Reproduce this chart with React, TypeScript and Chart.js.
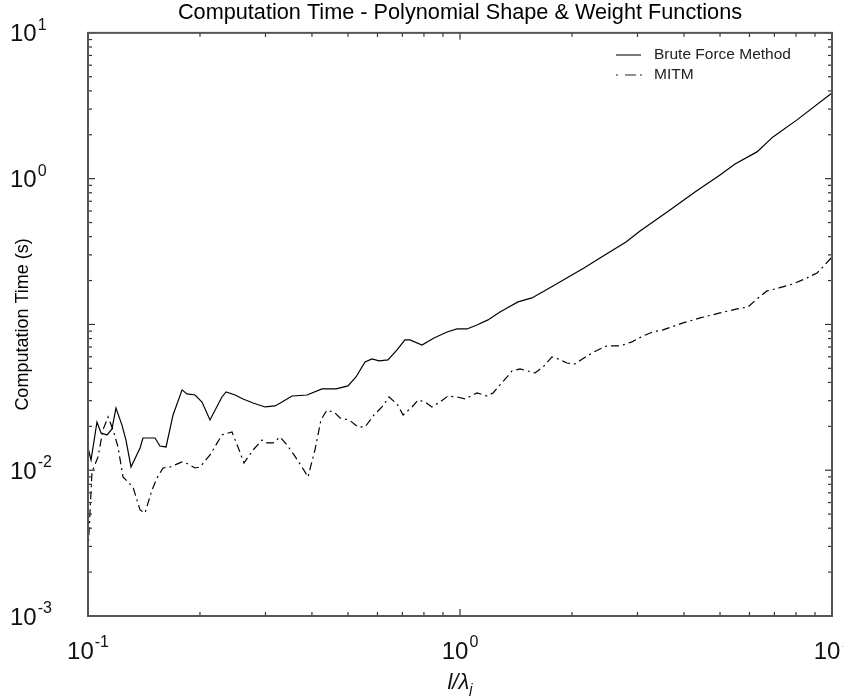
import React, { useEffect, useRef } from 'react';
import { Chart, registerables } from 'chart.js';

Chart.register(...registerables);

const titleText = 'Computation Time - Polynomial Shape & Weight Functions';
const yTitle = 'Computation Time (s)';
const seriesNames = ['Brute Force Method', 'MITM'];

const bruteX = [
  0.1, 0.1019, 0.1057, 0.1084, 0.1125, 0.116, 0.1189, 0.1234, 0.1265, 0.1305,
  0.138, 0.1405, 0.1514, 0.1561, 0.1621, 0.1693, 0.179, 0.1845, 0.194, 0.2025,
  0.2128, 0.2291, 0.235, 0.2485, 0.2611, 0.2778, 0.2991, 0.3183, 0.3323, 0.3534,
  0.388, 0.4256, 0.4642, 0.4999, 0.5253, 0.5555, 0.5799, 0.6058, 0.6404, 0.6771,
  0.7113, 0.7336, 0.7904, 0.8513, 0.9228, 0.9815, 1.044, 1.111, 1.189, 1.281,
  1.338, 1.432, 1.561, 1.778, 2.154, 2.378, 2.794, 3.048, 3.668, 4.282,
  5.0, 5.486, 6.286, 6.94, 8.052, 10.0,
];
const bruteY = [
  0.0142, 0.01175, 0.0214, 0.018, 0.01746, 0.0192, 0.0267, 0.0204, 0.0161, 0.01052,
  0.0142, 0.01664, 0.01664, 0.01466, 0.01444, 0.02393, 0.03556, 0.03336, 0.0328, 0.02938,
  0.02213, 0.0318, 0.03444, 0.0328, 0.03083, 0.02893, 0.02716, 0.0276, 0.02938, 0.0323,
  0.0328, 0.0361, 0.0361, 0.03786, 0.04363, 0.0553, 0.05799, 0.05618, 0.05706, 0.06683,
  0.0783, 0.0783, 0.0723, 0.0808, 0.0888, 0.0931, 0.0931, 0.0992, 0.1074, 0.1219,
  0.1298, 0.1427, 0.152, 0.1837, 0.2442, 0.286, 0.3681, 0.438, 0.6105, 0.8111,
  1.061, 1.262, 1.526, 1.934, 2.53, 3.876,
];

const mitmX = [
  0.1, 0.1025, 0.1064, 0.1097, 0.1132, 0.1168, 0.1204, 0.1242, 0.1321, 0.138,
  0.1423, 0.1486, 0.1533, 0.1591, 0.1662, 0.179, 0.1845, 0.194, 0.2, 0.2128,
  0.2291, 0.2438, 0.253, 0.2626, 0.2778, 0.2936, 0.3029, 0.3143, 0.3282, 0.3427,
  0.358, 0.376, 0.3902, 0.4075, 0.4229, 0.4389, 0.4614, 0.4758, 0.5031, 0.5319,
  0.5555, 0.5872, 0.617, 0.6444, 0.6771, 0.703, 0.7431, 0.7713, 0.8052, 0.8407,
  0.8835, 0.9284, 0.9815, 1.031, 1.111, 1.182, 1.227, 1.281, 1.338, 1.38,
  1.45, 1.591, 1.672, 1.767, 1.834, 1.939, 2.038, 2.154, 2.263, 2.378,
  2.484, 2.692, 2.9, 3.104, 3.302, 3.513, 3.978, 4.418, 5.0, 5.553,
  5.945, 6.286, 6.688, 7.203, 7.856, 8.567, 9.114, 9.517, 10.0,
];
const mitmY = [
  0.0027, 0.00973, 0.01233, 0.01889, 0.02319, 0.01889, 0.01444, 0.00899, 0.00767, 0.00534,
  0.00509, 0.00732, 0.00885, 0.01036, 0.01052, 0.0114, 0.01113, 0.01036, 0.01052, 0.01273,
  0.01746, 0.0183, 0.01444, 0.01121, 0.01377, 0.01612, 0.01538, 0.01538, 0.0169, 0.0149,
  0.01273, 0.01052, 0.00899, 0.01377, 0.02213, 0.0259, 0.0247, 0.02283, 0.02213, 0.0198,
  0.0198, 0.02393, 0.02716, 0.0318, 0.02848, 0.02393, 0.02716, 0.03034, 0.0294, 0.02716,
  0.0294, 0.0323, 0.0318, 0.03083, 0.0339, 0.0323, 0.0339, 0.03846, 0.04363, 0.04799,
  0.04952, 0.04647, 0.05109, 0.05984, 0.058, 0.0544, 0.0536, 0.0589, 0.0637, 0.0679,
  0.0712, 0.0712, 0.0759, 0.0834, 0.0888, 0.0917, 0.1024, 0.1108, 0.1199, 0.1278,
  0.1318, 0.1496, 0.1698, 0.178, 0.1896, 0.2085, 0.2256, 0.252, 0.2905,
];

const xMajor = [0.1, 1, 10];
const xMajorExp = ['-1', '0', '1'];
const yMajor = [0.001, 0.01, 0.1, 1, 10];
// labels shown on the y axis (10^-1 is hidden behind the axis title in the reference)
const yLabelValues = [0.001, 0.01, 1, 10];
const yLabelExp = ['-3', '-2', '0', '1'];
const minorMult = [2, 3, 4, 5, 6, 7, 8, 9];

const FONT = '"Liberation Sans", Arial, Helvetica, sans-serif';

const decorPlugin = {
  id: 'decor',
  afterDraw(chart: any) {
    const { ctx, chartArea: a, scales } = chart;
    const xs = scales.x;
    const ys = scales.y;
    ctx.save();

    const seg = (x1: number, y1: number, x2: number, y2: number) => {
      ctx.beginPath();
      ctx.moveTo(x1, y1);
      ctx.lineTo(x2, y2);
      ctx.stroke();
    };

    // tick marks (inside, all four sides)
    ctx.strokeStyle = '#333';
    ctx.lineWidth = 1.2;
    xMajor.forEach((v, i) => {
      const p = xs.getPixelForValue(v);
      seg(p, a.bottom, p, a.bottom - 7);
      seg(p, a.top, p, a.top + 7);
      if (i < xMajor.length - 1) {
        minorMult.forEach((m) => {
          const q = xs.getPixelForValue(v * m);
          seg(q, a.bottom, q, a.bottom - 4);
          seg(q, a.top, q, a.top + 4);
        });
      }
    });
    yMajor.forEach((v, i) => {
      const p = ys.getPixelForValue(v);
      seg(a.left, p, a.left + 7, p);
      seg(a.right, p, a.right - 7, p);
      if (i < yMajor.length - 1) {
        minorMult.forEach((m) => {
          const q = ys.getPixelForValue(v * m);
          seg(a.left, q, a.left + 4, q);
          seg(a.right, q, a.right - 4, q);
        });
      }
    });

    // frame
    ctx.strokeStyle = '#555';
    ctx.lineWidth = 2;
    ctx.strokeRect(a.left, a.top, a.right - a.left, a.bottom - a.top);

    // tick labels
    ctx.fillStyle = '#111';
    ctx.textAlign = 'left';
    ctx.textBaseline = 'alphabetic';
    const big = `24px ${FONT}`;
    const small = `16px ${FONT}`;
    xMajor.forEach((v, i) => {
      const p = xs.getPixelForValue(v);
      ctx.font = big;
      const w1 = ctx.measureText('10').width;
      ctx.font = small;
      const w2 = ctx.measureText(xMajorExp[i]).width;
      const left = p - (w1 + 1 + w2) / 2;
      ctx.font = big;
      ctx.fillText('10', left, 659);
      ctx.font = small;
      ctx.fillText(xMajorExp[i], left + w1 + 1, 647);
    });
    yLabelValues.forEach((v, i) => {
      const p = ys.getPixelForValue(v);
      ctx.font = big;
      const w1 = ctx.measureText('10').width;
      ctx.fillText('10', 10, p + 8.5);
      ctx.font = small;
      ctx.fillText(yLabelExp[i], 10 + w1 + 1, p - 3);
    });

    // x axis title: l/λ with subscript j
    const xt1 = 'l/λ';
    const xt2 = 'j';
    ctx.font = `italic 22px ${FONT}`;
    const tw1 = ctx.measureText(xt1).width;
    ctx.font = `italic 15px ${FONT}`;
    const tw2 = ctx.measureText(xt2).width;
    const cx = (a.left + a.right) / 2;
    const tl = cx - (tw1 + tw2) / 2;
    ctx.font = `italic 22px ${FONT}`;
    ctx.fillText(xt1, tl, 689);
    ctx.font = `italic 15px ${FONT}`;
    ctx.fillText(xt2, tl + tw1, 694);

    // legend
    ctx.font = `15.5px ${FONT}`;
    ctx.textBaseline = 'middle';
    ctx.fillStyle = '#222';
    ctx.fillText(seriesNames[0], 654, 55);
    ctx.fillText(seriesNames[1], 654, 75);
    ctx.strokeStyle = '#222';
    ctx.lineWidth = 1.2;
    seg(616, 55, 641, 55);
    ctx.setLineDash([2, 7, 11, 4, 2, 40]);
    seg(616, 75, 642, 75);
    ctx.setLineDash([]);

    ctx.restore();
  },
};

export default function App() {
  const ref = useRef<HTMLCanvasElement>(null);

  useEffect(() => {
    if (!ref.current) return;
    const chart = new Chart(ref.current, {
      type: 'line',
      data: {
        datasets: [
          {
            label: seriesNames[0],
            data: bruteX.map((x, i) => ({ x, y: bruteY[i] })),
            borderColor: '#000',
            borderWidth: 1.2,
            pointRadius: 0,
            fill: false,
            tension: 0,
          },
          {
            label: seriesNames[1],
            data: mitmX.map((x, i) => ({ x, y: mitmY[i] })),
            borderColor: '#000',
            borderWidth: 1.2,
            borderDash: [8, 4, 2, 4],
            pointRadius: 0,
            fill: false,
            tension: 0,
          },
        ],
      },
      options: {
        responsive: false,
        animation: false,
        layout: { padding: { left: 0, right: 11, top: 0, bottom: 0 } },
        plugins: {
          legend: { display: false },
          tooltip: { enabled: false },
          title: {
            display: true,
            text: titleText,
            fullSize: false,
            color: '#000',
            font: { family: FONT, size: 21.7, weight: 'normal', lineHeight: 1.1 },
            padding: { top: 1, bottom: 8 },
          },
        },
        scales: {
          x: {
            type: 'logarithmic',
            min: 0.1,
            max: 10,
            grid: { display: false },
            border: { display: false },
            ticks: { display: false },
            afterFit: (s: any) => {
              s.height = 80;
              s.paddingLeft = 0;
              s.paddingRight = 0;
            },
          },
          y: {
            type: 'logarithmic',
            min: 0.001,
            max: 10,
            grid: { display: false },
            border: { display: false },
            ticks: { display: false },
            title: {
              display: true,
              text: yTitle,
              color: '#000',
              font: { family: FONT, size: 18, lineHeight: 1.2 },
              padding: { top: 12, bottom: 0 },
            },
            afterFit: (s: any) => {
              s.width = 88;
              s.paddingTop = 0;
              s.paddingBottom = 0;
            },
          },
        },
      } as any,
      plugins: [decorPlugin],
    });
    return () => chart.destroy();
  }, []);

  return (
    <div style={{ position: 'absolute', left: 0, top: 0, width: 843, height: 696, background: '#fff' }}>
      <canvas ref={ref} width={843} height={696} style={{ display: 'block' }} />
    </div>
  );
}
